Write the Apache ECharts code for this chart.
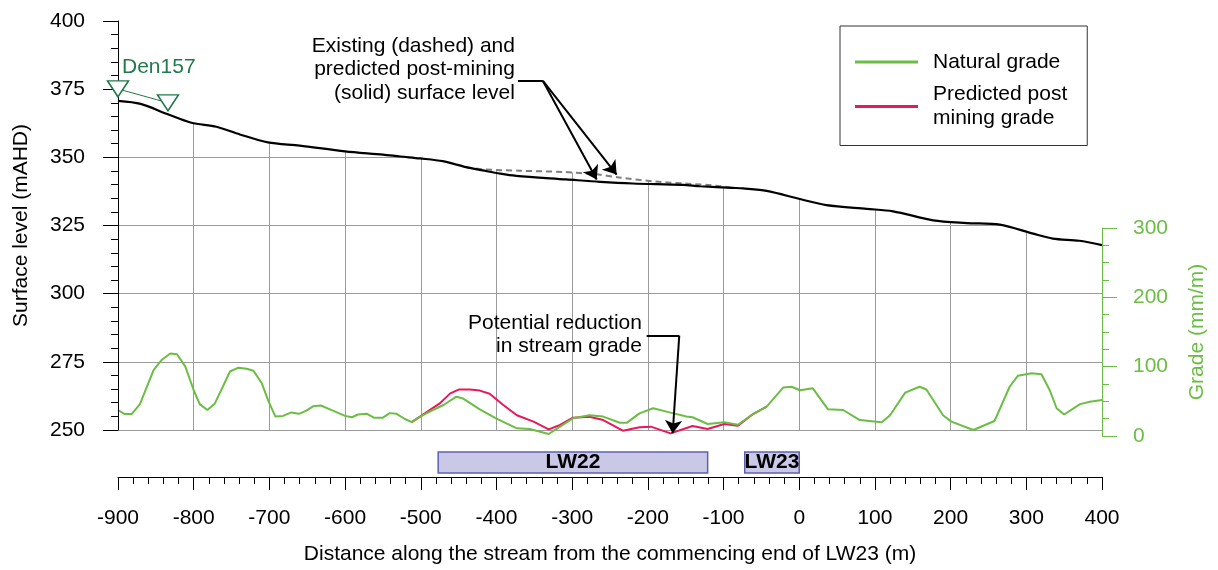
<!DOCTYPE html>
<html><head><meta charset="utf-8">
<script src="https://cdn.jsdelivr.net/npm/echarts@6/dist/echarts.min.js"></script>
<style>html,body{margin:0;padding:0;background:#fff}#c{width:1218px;height:570px}</style>
</head><body><div id="c"></div>
<script>
// ---- data ----
const surfX = [-900,-870,-836,-803,-770,-739,-702,-660,-600,-550,-527,-501,-471,-440,-418,-395,-374,-308,-263,-220,-154,-131,-88,-74,-43,1,36,89,124,177,221,265,309,335,370,400];
const surfLevel = [370.7,369.6,366.0,362.7,361.2,358.4,355.5,354.3,352.2,351.0,350.3,349.6,348.6,346.4,345.2,344.0,343.2,341.9,341.0,340.4,339.9,339.4,338.8,338.6,337.7,334.7,332.5,331.1,330.2,326.9,325.9,325.3,322.0,320.2,319.4,317.8];
const existX = [-440,-418,-370,-310,-270,-235,-190,-150,-110,-88];
const existLevel = [346.4,345.6,345.1,344.6,343.8,342.5,341.1,340.4,339.6,338.8];
const gradeX = [-900,-891,-882,-871,-853,-842,-831,-822,-811,-800,-792,-782,-772,-752,-741,-730,-721,-710,-701,-692,-682,-671,-661,-651,-642,-632,-620,-600,-591,-583,-571,-562,-550,-541,-532,-521,-512,-501,-484,-470,-453,-444,-422,-400,-373,-356,-331,-316,-299,-277,-259,-237,-228,-211,-193,-170,-149,-141,-121,-99,-81,-61,-43,-21,-10,1,18,38,58,80,109,120,140,159,168,190,201,230,258,278,289,307,320,331,340,350,371,384,400];
const naturalGrade = [37.5,31.7,31.7,46,95,110,119,118,100,66,46,37.5,47,93,98.5,97,94,76,49.5,28,29,34,32,36.5,43,44,38.5,29,27,31,32,26.5,26.5,33,32,24.5,20,28,37.5,44.7,56.7,54,38.5,25,11,10,2.9,13.5,25.5,30,28,19.2,19,32.7,40,33.7,28,27,17.3,20,16.3,31.7,42.3,70,71,66,68.8,38.5,37.5,23,19.7,30,62.5,71,67,30,20.7,8.7,21.6,71,87,90.4,89,66,40,31,46,49.5,52];
const predX = [-512,-501,-475,-461,-450,-435,-422,-409,-391,-373,-351,-331,-316,-299,-277,-259,-233,-211,-196,-170,-141,-121,-99,-81,-61,-43];
const predictedGrade = [20,28,47,61.5,67,67,65.5,61,44.7,30,20.7,9.6,15.9,26.4,27.9,23,7.7,12.5,13.5,3.8,14.4,10,17.3,14.9,31.7,42.3];
const den157X = [-900,-834];
const den157Level = [375.1,370.0];
const lwNames = ['LW22','LW23'];
const lwStart = [-477,-72];
const lwEnd = [-121,0];

// ---- styles ----
const FONT = "'Liberation Sans', Arial, Helvetica, sans-serif";
const GREEN = '#6cbd45', RED = '#e8185d', DKGREEN = '#217a4a', GRIDC = '#9b9b9b';
const TOP = 1; // drawing layer above the grid lines
const SMOOTH = 0.3;
const zip = (xs, ys) => xs.map((x, i) => [x, ys[i]]);
const solid = zip(surfX, surfLevel);
const dashed = zip(existX, existLevel);
const ex0 = existX[0], ex1 = existX[existX.length - 1];
const maskData = solid.filter(p => p[0] < ex0).concat(dashed, solid.filter(p => p[0] > ex1));

function renderLW(params, api) {
  const s = api.coord([api.value(0), 1]);
  const e = api.coord([api.value(1), 0]);
  return {type: 'group', children: [
    {type: 'rect', shape: {x: s[0], y: s[1], width: e[0] - s[0], height: e[1] - s[1]},
     style: {fill: '#c9c9e7', stroke: '#5f5fb0', lineWidth: 1.5}},
    {type: 'text', style: {text: lwNames[params.dataIndex], x: (s[0] + e[0]) / 2, y: (s[1] + e[1]) / 2,
     align: 'center', verticalAlign: 'middle', font: 'bold 21px ' + FONT, fill: '#000'}}
  ]};
}

const arrowStyle = {silent: true, animation: false, zlevel: TOP, z: 10, symbol: ['none', 'arrow'], symbolSize: 13,
  lineStyle: {color: '#000', width: 2, type: 'solid'}, label: {show: false}, emphasis: {disabled: true}};

const chart = echarts.init(document.getElementById('c'), null, {renderer: 'canvas'});
const option = {
  animation: false,
  backgroundColor: '#fff',
  textStyle: {fontFamily: FONT},
  grid: [
    {left: 118, right: 116, top: 21, bottom: 134},
    {left: 118, right: 116, top: 228, bottom: 134},
    {left: 118, right: 116, top: 452, height: 21}
  ],
  legend: {
    zlevel: TOP, z: 10,
    data: ['Natural grade', 'Predicted post\nmining grade'],
    orient: 'vertical', left: 840, top: 26, padding: [24, 20, 15, 15], itemGap: 8.5,
    itemWidth: 63, itemHeight: 3, icon: 'rect', borderColor: '#333', borderWidth: 1,
    backgroundColor: '#fff', selectedMode: false,
    textStyle: {fontSize: 21, color: '#000', lineHeight: 24, padding: [0, 0, 0, 10], fontFamily: FONT}
  },
  xAxis: [
    {gridIndex: 0, type: 'value', min: -900, max: 400, interval: 100, position: 'bottom', offset: 47, zlevel: 0, z: 0,
     name: 'Distance along the stream from the commencing end of LW23 (m)', nameLocation: 'middle', nameGap: 67,
     nameTextStyle: {fontSize: 21, color: '#000', fontFamily: FONT},
     axisLine: {show: true, onZero: false, lineStyle: {color: '#000', width: 1}},
     axisTick: {show: true, length: 13, lineStyle: {color: '#000'}},
     minorTick: {show: true, splitNumber: 5, length: 7, lineStyle: {color: '#000'}},
     axisLabel: {fontSize: 21, color: '#000', margin: 31, fontFamily: FONT},
     splitLine: {show: true, showMinLine: false, showMaxLine: false, lineStyle: {color: GRIDC, width: 1}}},
    {gridIndex: 1, type: 'value', min: -900, max: 400, show: false},
    {gridIndex: 2, type: 'value', min: -900, max: 400, show: false}
  ],
  yAxis: [
    {gridIndex: 0, type: 'value', min: 250, max: 400, interval: 25, position: 'left', zlevel: TOP, z: 5,
     name: 'Surface level (mAHD)', nameLocation: 'middle', nameGap: 86,
     nameTextStyle: {fontSize: 21, color: '#000', fontFamily: FONT},
     axisLine: {show: true, onZero: false, lineStyle: {color: '#000'}},
     axisTick: {show: true, length: 15, lineStyle: {color: '#000'}},
     minorTick: {show: true, splitNumber: 5, length: 7, lineStyle: {color: '#000'}},
     axisLabel: {fontSize: 21, color: '#000', margin: 33, fontFamily: FONT},
     splitLine: {show: false}},
    {gridIndex: 0, type: 'value', min: 250, max: 400, interval: 25, position: 'left', zlevel: 0, z: 0,
     axisLine: {show: false, onZero: false}, axisTick: {show: false}, axisLabel: {show: false},
     splitLine: {show: true, showMaxLine: false, lineStyle: {color: GRIDC, width: 1}}},
    {gridIndex: 1, type: 'value', min: 0, max: 300, interval: 100, position: 'right', zlevel: TOP, z: 5,
     name: 'Grade (mm/m)', nameLocation: 'middle', nameGap: 85,
     nameTextStyle: {fontSize: 21, color: GREEN, fontFamily: FONT},
     axisLine: {show: true, onZero: false, lineStyle: {color: GREEN}},
     axisTick: {show: true, length: 15, lineStyle: {color: GREEN}},
     minorTick: {show: true, splitNumber: 4, length: 7, lineStyle: {color: GREEN}},
     axisLabel: {fontSize: 21, color: GREEN, margin: 31, fontFamily: FONT},
     splitLine: {show: false}},
    {gridIndex: 2, type: 'value', min: 0, max: 1, show: false}
  ],
  series: [
    {name: 'mask', type: 'line', xAxisIndex: 0, yAxisIndex: 0, data: maskData, symbol: 'none', zlevel: TOP, z: 1,
     smooth: SMOOTH, lineStyle: {width: 0, opacity: 0}, areaStyle: {color: '#fff', opacity: 1, origin: 'end'}, silent: true},
    {name: 'Existing surface', type: 'line', xAxisIndex: 0, yAxisIndex: 0, data: dashed, symbol: 'none', zlevel: TOP, z: 3,
     smooth: SMOOTH, lineStyle: {color: '#808080', width: 2, type: [6, 4]}, silent: true},
    {name: 'Predicted surface', type: 'line', xAxisIndex: 0, yAxisIndex: 0, data: solid, symbol: 'none', zlevel: TOP, z: 3,
     smooth: SMOOTH, lineStyle: {color: '#000', width: 2.2}, silent: true,
     markLine: Object.assign({}, arrowStyle, {
       data: [
         [{coord: [-371.6, 378], symbol: 'none'}, {coord: [-338.6, 378], symbol: 'none'}],
         [{coord: [-338.6, 378], symbol: 'none'}, {coord: [-267.6, 341.9]}],
         [{coord: [-338.6, 378], symbol: 'none'}, {coord: [-241.2, 343.7]}]
       ]})},
    {name: 'Predicted post\nmining grade', type: 'line', xAxisIndex: 1, yAxisIndex: 2, data: zip(predX, predictedGrade),
     symbol: 'none', zlevel: TOP, z: 3, lineStyle: {color: RED, width: 2}, itemStyle: {color: RED}, silent: true},
    {name: 'Natural grade', type: 'line', xAxisIndex: 1, yAxisIndex: 2, data: zip(gradeX, naturalGrade),
     symbol: 'none', zlevel: TOP, z: 4, lineStyle: {color: GREEN, width: 2}, itemStyle: {color: GREEN}, silent: true,
     markLine: Object.assign({}, arrowStyle, {
       data: [
         [{coord: [-201.6, 144.7], symbol: 'none'}, {coord: [-158.5, 144.7], symbol: 'none'}],
         [{coord: [-158.5, 144.7], symbol: 'none'}, {coord: [-167.2, 3.9]}]
       ]})},
    {name: 'Den157', type: 'line', xAxisIndex: 0, yAxisIndex: 0, data: zip(den157X, den157Level),
     symbol: 'triangle', symbolRotate: 180, symbolSize: [21, 16], showSymbol: true, clip: false, zlevel: TOP, z: 6,
     itemStyle: {color: '#fff', borderColor: DKGREEN, borderWidth: 1.5},
     lineStyle: {color: DKGREEN, width: 1}, silent: true},
    {name: 'Longwalls', type: 'custom', xAxisIndex: 2, yAxisIndex: 3, zlevel: TOP, z: 3,
     data: lwNames.map((n, i) => [lwStart[i], lwEnd[i]]), renderItem: renderLW, clip: false, silent: true}
  ]
};
chart.setOption(option);

// annotation texts anchored in data coordinates
const pS = xy => chart.convertToPixel({xAxisIndex: 0, yAxisIndex: 0}, xy);
const pG = xy => chart.convertToPixel({xAxisIndex: 1, yAxisIndex: 2}, xy);
const a1 = pS([-375.6, 382.3]);
const a2 = pG([-207.8, 146.4]);
const a3 = pS([-894.7, 383.0]);
chart.setOption({graphic: [
  {type: 'text', zlevel: TOP, z: 100, x: a1[0], y: a1[1], silent: true,
   style: {text: 'Existing (dashed) and\npredicted post-mining\n(solid) surface level', font: '21px ' + FONT,
     fill: '#000', align: 'right', verticalAlign: 'middle', lineHeight: 23.5}},
  {type: 'text', zlevel: TOP, z: 100, x: a2[0], y: a2[1], silent: true,
   style: {text: 'Potential reduction\nin stream grade', font: '21px ' + FONT,
     fill: '#000', align: 'right', verticalAlign: 'middle', lineHeight: 23.5}},
  {type: 'text', zlevel: TOP, z: 100, x: a3[0], y: a3[1], silent: true,
   style: {text: 'Den157', font: '21px ' + FONT, fill: DKGREEN, align: 'left', verticalAlign: 'middle'}}
]});
</script>
</body></html>
